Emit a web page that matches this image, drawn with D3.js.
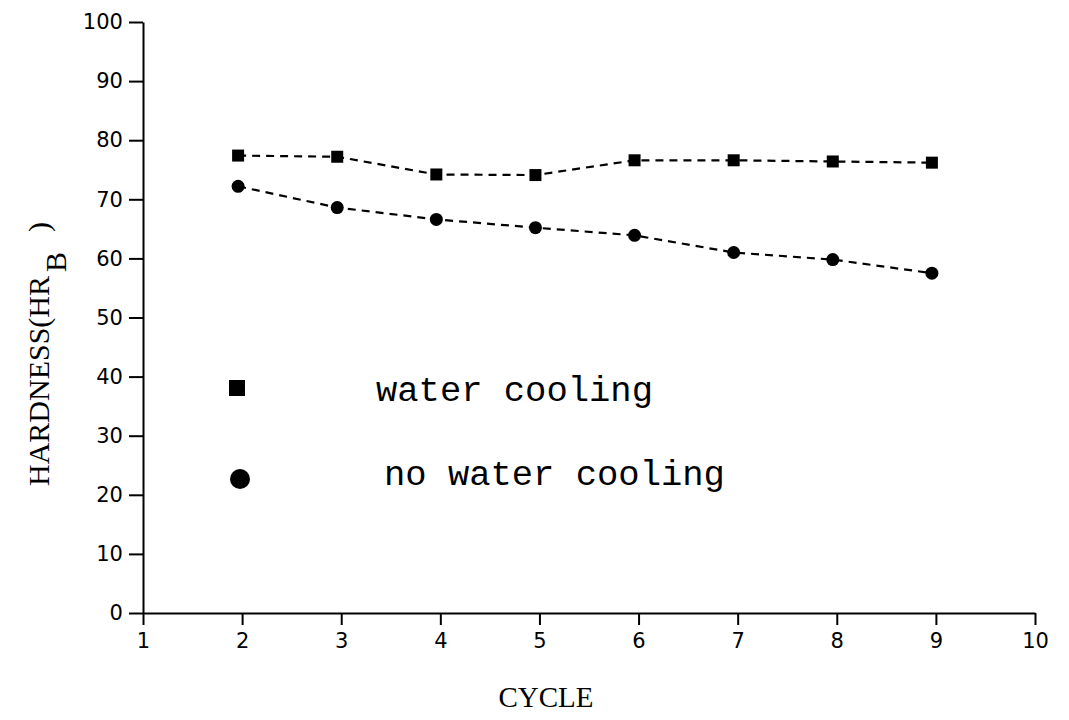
<!DOCTYPE html>
<html>
<head>
<meta charset="utf-8">
<script src="https://cdn.jsdelivr.net/npm/d3@7"></script>
<style>
  body { margin: 0; background: #fff; }
  svg { display: block; }
</style>
</head>
<body>
<svg id="chart"></svg>
<script>
const cycles = [2, 3, 4, 5, 6, 7, 8, 9]
const waterCooling = [77.4, 77.2, 74.2, 74.1, 76.6, 76.6, 76.4, 76.2]
const noWaterCooling = [72.2, 68.6, 66.6, 65.2, 63.9, 61.0, 59.8, 57.5]
const xTicks = [1, 2, 3, 4, 5, 6, 7, 8, 9, 10]
const yTicks = [0, 10, 20, 30, 40, 50, 60, 70, 80, 90, 100]

const svgWidth = 1069
const svgHeight = 720
const margin = { top: 22, right: 34, bottom: 107, left: 143 }
const width = svgWidth - margin.left - margin.right
const height = svgHeight - margin.top - margin.bottom

const svg = d3.select('#chart')
  .attr('width', svgWidth)
  .attr('height', svgHeight)

const g = svg.append('g')
  .attr('transform', `translate(${margin.left}, ${margin.top})`)

const x = d3.scaleLinear().domain([1, 10]).range([0, width])
const y = d3.scaleLinear().domain([0, 100]).range([height, 0])

const xAxis = d3.axisBottom(x).tickValues(xTicks).tickSize(12).tickSizeOuter(0).tickFormat(d3.format('d'))
const yAxis = d3.axisLeft(y).tickValues(yTicks).tickSize(14).tickSizeOuter(0).tickFormat(d3.format('d'))

// Append Xaxis
const gx = g.append('g')
  .attr('transform', `translate(0, ${height})`)
  .call(xAxis)
  .attr('font-family', 'DejaVu Sans, sans-serif')
  .attr('font-size', 21)
gx.selectAll('text').attr('dy', '0.95em')

// Append Yaxis
const gy = g.append('g').call(yAxis)
  .attr('font-family', 'DejaVu Sans, sans-serif')
  .attr('font-size', 21)
gy.selectAll('text').attr('dx', '-0.15em')

svg.selectAll('.domain, .tick line')
  .attr('stroke', '#000')
  .attr('stroke-width', 2)
svg.selectAll('.tick text').attr('fill', '#000')

const series = [
  { values: waterCooling, shape: 'square' },
  { values: noWaterCooling, shape: 'circle' }
]

const line = d3.line()
  .x((d, i) => x(cycles[i]))
  .y(d => y(d))

for (const s of series) {
  g.append('path')
    .datum(s.values)
    .attr('fill', 'none')
    .attr('stroke', '#000')
    .attr('stroke-width', 2.2)
    .attr('stroke-dasharray', '8,6')
    .attr('transform', 'translate(-4, 0)')
    .attr('d', line)

  const marks = g.append('g').selectAll('g')
    .data(s.values)
    .join('g')
    .attr('transform', (d, i) => `translate(${x(cycles[i]) - 4}, ${y(d)})`)

  if (s.shape === 'square') {
    marks.append('rect').attr('x', -6).attr('y', -6).attr('width', 12).attr('height', 12).attr('fill', '#000')
  } else {
    marks.append('circle').attr('r', 6.5).attr('fill', '#000')
  }
}

// legend
const legend = svg.append('g')
  .attr('font-family', 'Liberation Mono, DejaVu Sans Mono, monospace')
  .attr('font-size', 35.5)
  .attr('fill', '#000')

legend.append('rect').attr('x', 229).attr('y', 380).attr('width', 16).attr('height', 16).attr('fill', '#000')
legend.append('text').attr('x', 376).attr('y', 401).text('water cooling')
legend.append('circle').attr('cx', 240).attr('cy', 479).attr('r', 10).attr('fill', '#000')
legend.append('text').attr('x', 384).attr('y', 485).text('no water cooling')

// axis titles
const yTitle = svg.append('text')
  .attr('transform', 'translate(49, 486) rotate(-90)')
  .attr('font-family', 'Liberation Serif, DejaVu Serif, serif')
  .attr('font-size', 30)
  .attr('fill', '#000')
  .text('HARDNESS(HR')
yTitle.append('tspan')
  .attr('dy', 17)
  .attr('dx', 4)
  .text('B')
yTitle.append('tspan')
  .attr('dy', -17)
  .attr('dx', 20)
  .text(')')

svg.append('text')
  .attr('x', 546)
  .attr('y', 707)
  .attr('text-anchor', 'middle')
  .attr('font-family', 'Liberation Serif, DejaVu Serif, serif')
  .attr('font-size', 29)
  .attr('fill', '#000')
  .text('CYCLE')
</script>
</body>
</html>
